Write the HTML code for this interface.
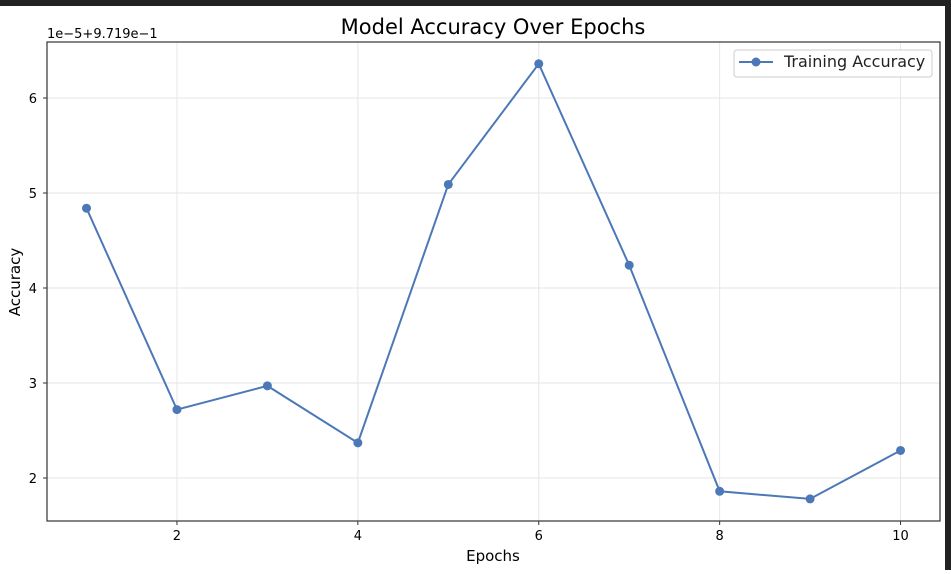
<!DOCTYPE html>
<html><head><meta charset="utf-8"><style>
body{margin:0;background:#fff;width:951px;height:570px;overflow:hidden;font-family:"DejaVu Sans","Liberation Sans",sans-serif}
</style></head><body>
<svg id="chart" width="951" height="570" xmlns="http://www.w3.org/2000/svg" font-family="DejaVu Sans, Liberation Sans, sans-serif">
<rect x="0" y="0" width="951" height="6" fill="#222"/>
<rect x="945" y="0" width="6" height="570" fill="#222"/>
<text x="493" y="34" text-anchor="middle" font-size="21" fill="#000">Model Accuracy Over Epochs</text>
<text x="47" y="38" font-size="13" fill="#000">1e−5+9.719e−1</text>
<g id="grid"></g><g id="ticks"></g>
<rect x="47" y="42" width="893" height="479" fill="none" stroke="#333" stroke-width="1.2"/>
<g id="series"></g>
<text x="493" y="561" text-anchor="middle" font-size="15">Epochs</text>
<text transform="translate(20,282) rotate(-90)" text-anchor="middle" font-size="15">Accuracy</text>
<g>
<rect x="734" y="50" width="198" height="27" rx="3" fill="#fff" stroke="#ccc"/>
<line x1="739" y1="62" x2="773" y2="62" stroke="#4c78b8" stroke-width="2"/>
<circle cx="756" cy="62" r="4.5" fill="#4c78b8"/>
<text x="784" y="67" font-size="16" fill="#222">Training Accuracy</text>
</g>
</svg>
<script>
const epochs=[1,2,3,4,5,6,7,8,9,10];
const accuracy=[4.84,2.72,2.97,2.37,5.09,6.36,4.24,1.86,1.78,2.29];
const xTicks=[2,4,6,8,10];
const yTicks=[2,3,4,5,6];
const NS="http://www.w3.org/2000/svg";
function sx(v){return 86.5+(v-1)*90.45;}
function sy(v){return 478-(v-2)*95;}
const grid=document.getElementById('grid'),ticks=document.getElementById('ticks'),ser=document.getElementById('series');
function mk(p,tag,a){const e=document.createElementNS(NS,tag);for(const k in a)e.setAttribute(k,a[k]);p.appendChild(e);return e;}
xTicks.forEach(t=>{const x=sx(t);
const g=mk(grid,'line',{x1:x,x2:x,y1:42,y2:521,stroke:'#e6e6e6'});


mk(ticks,'line',{x1:x,x2:x,y1:521,y2:525,stroke:'#333'});
const tx=mk(ticks,'text',{x:x,y:540,'text-anchor':'middle','font-size':13});tx.textContent=t;

});
yTicks.forEach(t=>{const y=sy(t);
const g=mk(grid,'line',{x1:47,x2:940,y1:y,y2:y,stroke:'#e6e6e6'});


mk(ticks,'line',{x1:43,x2:47,y1:y,y2:y,stroke:'#333'});
const tx=mk(ticks,'text',{x:37,y:y+5,'text-anchor':'end','font-size':13});tx.textContent=t;

});
const pts=epochs.map((e,i)=>sx(e)+','+sy(accuracy[i])).join(' ');
const pl=mk(ser,'polyline',{points:pts,fill:'none',stroke:'#4c78b8','stroke-width':2});


epochs.forEach((e,i)=>{const c=mk(ser,'circle',{cx:sx(e),cy:sy(accuracy[i]),r:4.5,fill:'#4c78b8'});

});
</script>
</body></html>
